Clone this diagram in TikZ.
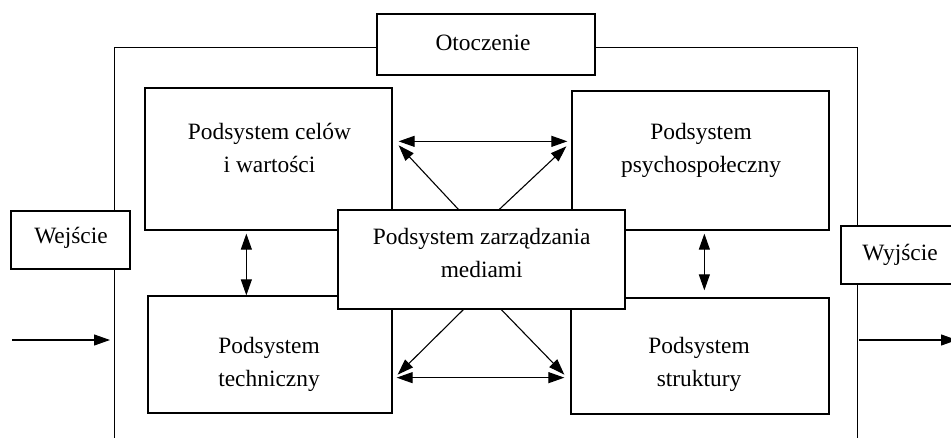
\documentclass[tikz,border=0pt]{standalone}
\usepackage{fontspec}
\setmainfont{Liberation Serif}
\usetikzlibrary{arrows.meta,calc,fit}
\begin{document}
\begin{tikzpicture}[x=0.5pt,y=-0.5pt,
  box/.style={draw,line width=0.65pt,inner sep=0pt,fill=white},
  txt/.style={font=\fontsize{11.7}{16.5}\selectfont,align=center,inner sep=0pt},
  con/.style={line width=0.55pt,>={Triangle[length=8pt,width=5.5pt]}},
  frame/.style={line width=0.65pt}]
\useasboundingbox (0,0) rectangle (951,438);
\clip (0,0) rectangle (951,438);
% boxes
\node[box,fit={(377,14) (595,75)}] (oto) {};
\node[box,fit={(11,211) (130,269)}] (wej) {};
\node[box,fit={(841,226) (962,284)}] (wyj) {};
\node[box,fit={(145,88) (392,230)}] (cel) {};
\node[box,fit={(572,91) (829,230)}] (psy) {};
\node[box,fit={(148,296) (392,413)}] (tech) {};
\node[box,fit={(571,298) (829,414)}] (str) {};
\node[box,fit={(338,210) (625,309)}] (mid) {};
% texts
\node[txt,anchor=base] (toto) at (483,51) {Otoczenie};
\node[txt,anchor=base] (twej) at (71,243) {Wejście};
\node[txt,anchor=base] (twyj) at (900,260) {Wyjście};
\node[txt] (tcel) at (269.5,148) {Podsystem celów\\i wartości};
\node[txt] (tpsy) at (701,150.5) {Podsystem\\psychospołeczny};
\node[txt] (ttech) at (269,364) {Podsystem\\techniczny};
\node[txt] (tstr) at (699,364) {Podsystem\\struktury};
\node[txt] (tmid) at (481.7,253) {Podsystem zarządzania\\mediami};
% outer frame
\draw[frame] ($(wej.north west)+(104,0)$) |- ($(oto.south west)+(0,-28)$);
\draw[frame] ($(oto.south east)+(0,-28)$) -| ($(wyj.north west)+(17,0)$);
\draw[frame] ($(wej.south west)+(104,0)$) -- ++(0,180);
\draw[frame] ($(wyj.south west)+(17,0)$) -- ++(0,180);
% input / output
\coordinate (in1) at (12,340);
\coordinate (in2) at (110,340);
\coordinate (out1) at (859,340);
\coordinate (out2) at (957,340);
\draw[con,->] (in1) -- (in2);
\draw[con,->] (out1) -- (out2);
% connectors
\draw[con,<->] ($(cel.north east)+(6,54)$) -- ($(psy.north west)+(-4,51)$);
\draw[con,->] ($(mid.north west)+(121,0)$) -- ($(cel.north east)+(6,58)$);
\draw[con,->] ($(mid.north west)+(162,0)$) -- ($(psy.north west)+(-5,56)$);
\draw[con,<->] ($(tech.south east)+(4,-36)$) -- ($(str.south west)+(-6,-37)$);
\draw[con,->] ($(mid.south west)+(126,0)$) -- ($(tech.south east)+(5,-39)$);
\draw[con,->] ($(mid.south west)+(164,0)$) -- ($(str.south west)+(-6,-40)$);
\draw[con,<->] ($(cel.south west)+(102,3)$) -- ($(tech.north west)+(99,0)$);
\draw[con,<->] ($(psy.south west)+(133,3)$) -- ($(str.north west)+(134,-7)$);
\end{tikzpicture}
\end{document}
